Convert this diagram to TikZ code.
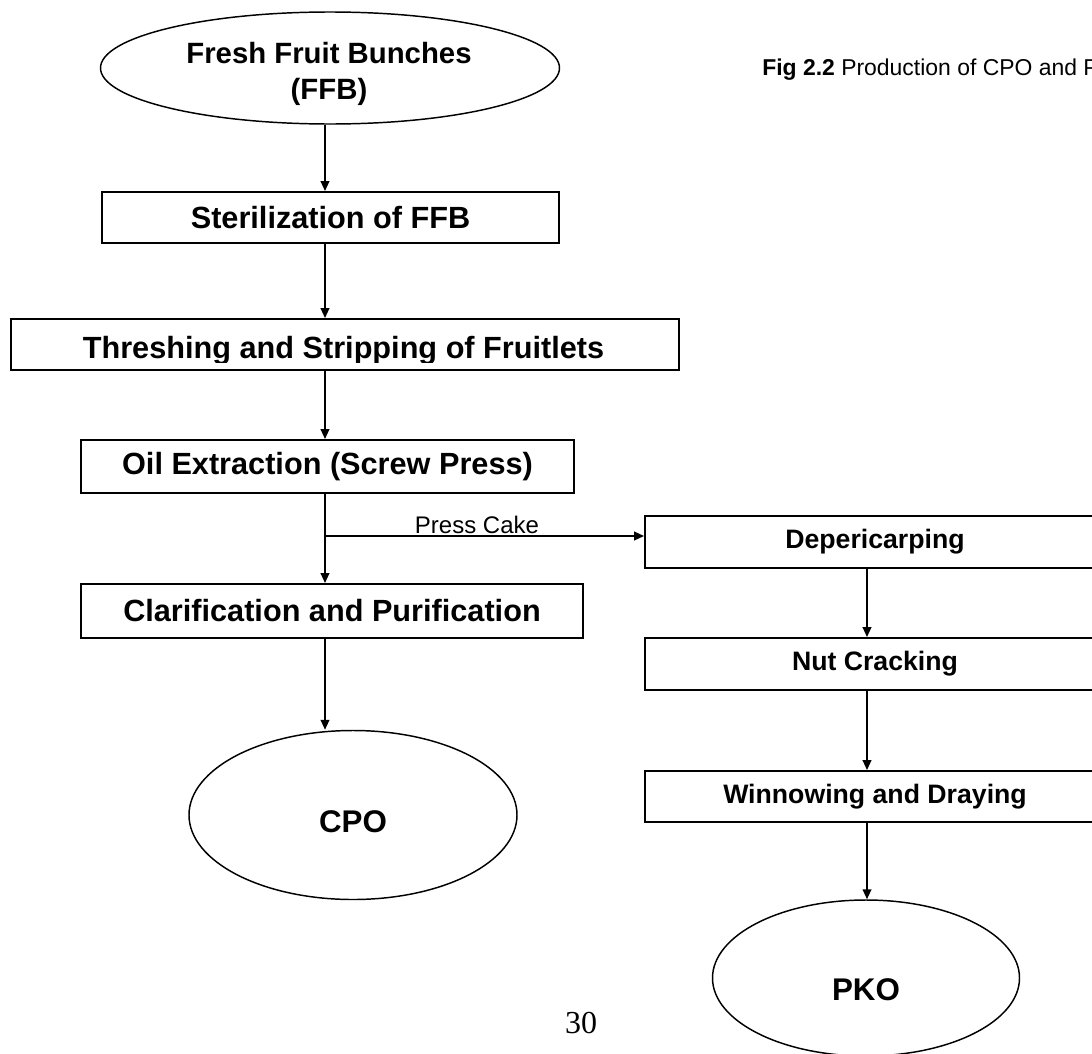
\documentclass[tikz,border=0pt]{standalone}
\usepackage{fontspec}
\setmainfont{Liberation Sans}
\newfontfamily\pagefont{Liberation Serif}
\usetikzlibrary{shapes.geometric,arrows.meta}
\newcommand\pxu{0.75pt}
\tikzset{
        stepbox/.style={draw, line width=1.4pt, inner sep=0pt, font=\fontsize{23}{27}\selectfont\bfseries},
        sidebox/.style={draw, line width=1.4pt, inner sep=0pt, minimum width=460*\pxu, font=\fontsize{20}{24}\selectfont\bfseries},
        endpoint/.style={draw, ellipse, line width=1.1pt, inner sep=0pt, font=\fontsize{23.5}{27}\selectfont\bfseries},
        flow/.style={line width=1.4pt, -{Triangle[length=7.5pt,width=6.5pt]}}
}

\begin{document}
\begin{tikzpicture}[x=0.75pt,y=-0.75pt]
        \useasboundingbox (0,0) rectangle (1092,1053);
        \clip (0,0) rectangle (1092,1053);
        \coordinate (lx) at (325,0);
        \coordinate (rx) at (867,0);
        \node[endpoint, minimum width=459*\pxu, minimum height=112*\pxu] (ffb) at (330,68) {};
        \node[align=center, inner sep=0pt, font=\fontsize{22}{27}\selectfont\bfseries] (ffbtext) at (329,74) {Fresh Fruit Bunches\\(FFB)};
        \node[stepbox, minimum width=457*\pxu, minimum height=51*\pxu] (ster) at (330.5,217.5) {Sterilization of FFB};
        \node[stepbox, minimum width=668*\pxu, minimum height=51*\pxu] (thr) at (345,344.5) {};
        \begin{scope}
                \clip (11,319) rectangle (679,362);
                \node[anchor=base, inner sep=0pt, font=\fontsize{23}{27}\selectfont\bfseries] (thrtext) at (343.5,358) {Threshing and Stripping of Fruitlets};
        \end{scope}
        \node[stepbox, minimum width=493*\pxu, minimum height=53*\pxu] (oil) at (327.5,466.5) {Oil Extraction (Screw Press)};
        \node[stepbox, minimum width=502*\pxu, minimum height=54*\pxu] (cla) at (332,611) {Clarification and Purification};
        \node[endpoint, minimum width=328*\pxu, minimum height=169*\pxu] (cpo) at (353,815) {\raisebox{-5pt}[\height][\depth]{CPO}};
        \node[sidebox, minimum height=52*\pxu] (dep) at (875,542) {Depericarping};
        \node[sidebox, minimum height=52*\pxu] (nut) at (875,664) {Nut Cracking};
        \node[sidebox, minimum height=51*\pxu] (win) at (875,796.5) {Winnowing and Draying};
        \node[endpoint, minimum width=307*\pxu, minimum height=156*\pxu] (pko) at (866,978) {\raisebox{-9pt}[\height][\depth]{PKO}};
        \coordinate (pc) at (325,536);
        \node[anchor=base, inner sep=0pt, font=\fontsize{18}{20}\selectfont] (presscake) at (477,533) {Press Cake};
        \node[anchor=base west, inner sep=0pt, font=\fontsize{17.2}{20}\selectfont] (caption) at (762,75) {\textbf{Fig 2.2} Production of CPO and P};
        \node[anchor=base, inner sep=0pt, font=\pagefont\fontsize{24}{26}\selectfont] (pageno) at (581,1033) {30};
        \draw[flow] (ffb.south -| lx) -- (ster.north -| lx);
        \draw[flow] (ster.south -| lx) -- (thr.north -| lx);
        \draw[flow] (thr.south -| lx) -- (oil.north -| lx);
        \draw[flow] (oil.south -| lx) -- (cla.north -| lx);
        \draw[flow] (pc) -- (pc -| dep.west);
        \draw[flow] (cla.south -| lx) -- (cpo.north -| lx);
        \draw[flow] (dep.south -| rx) -- (nut.north -| rx);
        \draw[flow] (nut.south -| rx) -- (win.north -| rx);
        \draw[flow] (win.south -| rx) -- (pko.north -| rx);
\end{tikzpicture}
\end{document}
